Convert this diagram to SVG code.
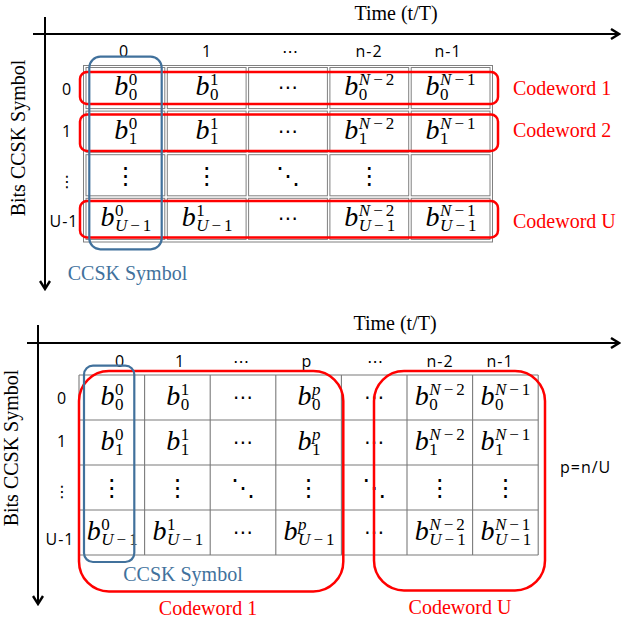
<svg xmlns="http://www.w3.org/2000/svg" width="621" height="622" viewBox="0 0 621 622">
<defs>
<marker id="arr" viewBox="0 0 12 12" refX="10" refY="6" markerWidth="12" markerHeight="12" markerUnits="userSpaceOnUse" orient="auto">
<path d="M2,1 L10,6 L2,11" fill="none" stroke="#000" stroke-width="2.4"/>
</marker>
<style>
.ax{stroke:#000;stroke-width:2;fill:none}
.ser{font-family:"Liberation Serif",serif;font-size:20px}
.lab{font-family:"Open Sans","Liberation Sans",sans-serif;font-size:16px;letter-spacing:1px;fill:#000}
.dots{font-family:"DejaVu Sans",sans-serif;fill:#000;text-anchor:middle}
.b{font-family:"Liberation Serif",serif;font-style:italic;font-size:28px;fill:#000}
.s{font-style:normal;font-size:17px;letter-spacing:3px}
.i{font-style:italic}
.cell{fill:none;stroke:#808080;stroke-width:1}
.red{fill:none;stroke:#ff0000;stroke-width:2.5}
.blue{fill:none;stroke:#41719c;stroke-width:2.2}
.rt{fill:#ff0000}
.bt{fill:#41719c}
</style>
</defs>
<rect width="621" height="622" fill="#fff"/>

<!-- ================= TOP DIAGRAM ================= -->
<g id="top-axes">
<line class="ax" x1="33" y1="34" x2="619" y2="34" marker-end="url(#arr)"/>
<line class="ax" x1="45" y1="17" x2="45" y2="289" marker-end="url(#arr)"/>
<text class="ser" x="396" y="20" text-anchor="middle">Time (t/T)</text>
<text class="ser" transform="translate(25,138) rotate(-90)" text-anchor="middle">Bits CCSK Symbol</text>
</g>

<g id="top-grid">
<rect class="cell" x="83.5" y="65.5" width="409" height="176.5"/>
<rect class="cell" x="86" y="67.5" width="78.8" height="41.1"/>
<rect class="cell" x="167.3" y="67.5" width="78.8" height="41.1"/>
<rect class="cell" x="248.6" y="67.5" width="78.8" height="41.1"/>
<rect class="cell" x="329.9" y="67.5" width="78.8" height="41.1"/>
<rect class="cell" x="411.2" y="67.5" width="78.8" height="41.1"/>
<rect class="cell" x="86" y="111.1" width="78.8" height="41.1"/>
<rect class="cell" x="167.3" y="111.1" width="78.8" height="41.1"/>
<rect class="cell" x="248.6" y="111.1" width="78.8" height="41.1"/>
<rect class="cell" x="329.9" y="111.1" width="78.8" height="41.1"/>
<rect class="cell" x="411.2" y="111.1" width="78.8" height="41.1"/>
<rect class="cell" x="86" y="154.7" width="78.8" height="41.1"/>
<rect class="cell" x="167.3" y="154.7" width="78.8" height="41.1"/>
<rect class="cell" x="248.6" y="154.7" width="78.8" height="41.1"/>
<rect class="cell" x="329.9" y="154.7" width="78.8" height="41.1"/>
<rect class="cell" x="411.2" y="154.7" width="78.8" height="41.1"/>
<rect class="cell" x="86" y="198.3" width="78.8" height="41.1"/>
<rect class="cell" x="167.3" y="198.3" width="78.8" height="41.1"/>
<rect class="cell" x="248.6" y="198.3" width="78.8" height="41.1"/>
<rect class="cell" x="329.9" y="198.3" width="78.8" height="41.1"/>
<rect class="cell" x="411.2" y="198.3" width="78.8" height="41.1"/>
</g>

<g id="top-headers">
<text class="lab" x="124" y="57" text-anchor="middle">0</text>
<text class="lab" x="207" y="57" text-anchor="middle">1</text>
<text class="dots" x="290" y="57" font-size="16">⋯</text>
<text class="lab" x="369" y="57" text-anchor="middle">n-2</text>
<text class="lab" x="448" y="57" text-anchor="middle">n-1</text>
<text class="lab" x="67" y="95" text-anchor="middle">0</text>
<text class="lab" x="67" y="137" text-anchor="middle">1</text>
<text class="dots" x="67" y="187" font-size="16">⋮</text>
<text class="lab" x="64" y="227" text-anchor="middle">U-1</text>
</g>

<g id="top-cells">
<!-- row 0 -->
<text class="b" x="114.2" y="95">b<tspan class="s" x="128.7" y="85">0</tspan><tspan class="s" x="128.7" y="100">0</tspan></text>
<text class="b" x="195.5" y="95">b<tspan class="s" x="210" y="85">1</tspan><tspan class="s" x="210" y="100">0</tspan></text>
<text class="dots" x="288" y="94" font-size="20">⋯</text>
<text class="b" x="344.3" y="95">b<tspan class="s" x="358.8" y="85"><tspan class="i">N</tspan>−2</tspan><tspan class="s" x="358.8" y="100">0</tspan></text>
<text class="b" x="425.6" y="95">b<tspan class="s" x="440.1" y="85"><tspan class="i">N</tspan>−1</tspan><tspan class="s" x="440.1" y="100">0</tspan></text>
<!-- row 1 -->
<text class="b" x="114.2" y="138.7">b<tspan class="s" x="128.7" y="128.7">0</tspan><tspan class="s" x="128.7" y="143.7">1</tspan></text>
<text class="b" x="195.5" y="138.7">b<tspan class="s" x="210" y="128.7">1</tspan><tspan class="s" x="210" y="143.7">1</tspan></text>
<text class="dots" x="288" y="137.7" font-size="20">⋯</text>
<text class="b" x="344.3" y="138.7">b<tspan class="s" x="358.8" y="128.7"><tspan class="i">N</tspan>−2</tspan><tspan class="s" x="358.8" y="143.7">1</tspan></text>
<text class="b" x="425.6" y="138.7">b<tspan class="s" x="440.1" y="128.7"><tspan class="i">N</tspan>−1</tspan><tspan class="s" x="440.1" y="143.7">1</tspan></text>
<!-- row 2 -->
<text class="dots" x="125.4" y="184" font-size="24">⋮</text>
<text class="dots" x="206.7" y="184" font-size="24">⋮</text>
<text class="dots" x="288" y="184" font-size="24">⋱</text>
<text class="dots" x="369.3" y="184" font-size="24">⋮</text>
<!-- row 3 -->
<text class="b" x="100.4" y="225.9">b<tspan class="s" x="114.9" y="215.9">0</tspan><tspan class="s" x="114.9" y="230.9"><tspan class="i">U</tspan>−1</tspan></text>
<text class="b" x="181.7" y="225.9">b<tspan class="s" x="196.2" y="215.9">1</tspan><tspan class="s" x="196.2" y="230.9"><tspan class="i">U</tspan>−1</tspan></text>
<text class="dots" x="288" y="224.9" font-size="20">⋯</text>
<text class="b" x="344.3" y="225.9">b<tspan class="s" x="358.8" y="215.9"><tspan class="i">N</tspan>−2</tspan><tspan class="s" x="358.8" y="230.9"><tspan class="i">U</tspan>−1</tspan></text>
<text class="b" x="425.6" y="225.9">b<tspan class="s" x="440.1" y="215.9"><tspan class="i">N</tspan>−1</tspan><tspan class="s" x="440.1" y="230.9"><tspan class="i">U</tspan>−1</tspan></text>
</g>

<g id="top-codeword-1">
<rect class="red" x="80" y="72" width="418" height="32" rx="7"/>
<text class="ser rt" x="513" y="95">Codeword 1</text>
</g>
<g id="top-codeword-2">
<rect class="red" x="80" y="114.5" width="418" height="36.5" rx="7"/>
<text class="ser rt" x="513" y="137">Codeword 2</text>
</g>
<g id="top-codeword-U">
<rect class="red" x="80" y="201" width="418" height="36.5" rx="7"/>
<text class="ser rt" x="513" y="228">Codeword U</text>
</g>
<g id="top-ccsk-symbol">
<rect class="blue" x="89.3" y="56.7" width="72.4" height="192.6" rx="11"/>
<text class="ser bt" x="127.5" y="280" text-anchor="middle">CCSK Symbol</text>
</g>

<!-- ================= BOTTOM DIAGRAM ================= -->
<g id="bottom-axes">
<line class="ax" x1="27" y1="343" x2="619" y2="343" marker-end="url(#arr)"/>
<line class="ax" x1="38" y1="325" x2="38" y2="604" marker-end="url(#arr)"/>
<text class="ser" x="395" y="330" text-anchor="middle">Time (t/T)</text>
<text class="ser" transform="translate(18,448) rotate(-90)" text-anchor="middle">Bits CCSK Symbol</text>
</g>

<g id="bottom-grid" stroke="#7a7a7a" stroke-width="1.1">
<line x1="79" y1="375" x2="538.2" y2="375"/>
<line x1="79" y1="420" x2="538.2" y2="420"/>
<line x1="79" y1="465" x2="538.2" y2="465"/>
<line x1="79" y1="510" x2="538.2" y2="510"/>
<line x1="79" y1="555" x2="538.2" y2="555"/>
<line x1="79" y1="375" x2="79" y2="555"/>
<line x1="144.6" y1="375" x2="144.6" y2="555"/>
<line x1="210.2" y1="375" x2="210.2" y2="555"/>
<line x1="275.8" y1="375" x2="275.8" y2="555"/>
<line x1="341.4" y1="375" x2="341.4" y2="555"/>
<line x1="407" y1="375" x2="407" y2="555"/>
<line x1="472.6" y1="375" x2="472.6" y2="555"/>
<line x1="538.2" y1="375" x2="538.2" y2="555"/>
</g>

<g id="bottom-headers">
<text class="lab" x="120" y="367" text-anchor="middle">0</text>
<text class="lab" x="180" y="367" text-anchor="middle">1</text>
<text class="dots" x="241" y="367" font-size="16">⋯</text>
<text class="lab" x="307" y="367" text-anchor="middle">p</text>
<text class="dots" x="375" y="367" font-size="16">⋯</text>
<text class="lab" x="440" y="367" text-anchor="middle">n-2</text>
<text class="lab" x="500" y="367" text-anchor="middle">n-1</text>
<text class="lab" x="62" y="404" text-anchor="middle">0</text>
<text class="lab" x="62" y="447" text-anchor="middle">1</text>
<text class="dots" x="62" y="497" font-size="16">⋮</text>
<text class="lab" x="60" y="545" text-anchor="middle">U-1</text>
<text class="lab" x="560" y="473">p=n/U</text>
</g>

<g id="bottom-cells">
<!-- row 0 -->
<text class="b" x="100.6" y="404.5">b<tspan class="s" x="115.1" y="394.5">0</tspan><tspan class="s" x="115.1" y="409.5">0</tspan></text>
<text class="b" x="166.2" y="404.5">b<tspan class="s" x="180.7" y="394.5">1</tspan><tspan class="s" x="180.7" y="409.5">0</tspan></text>
<text class="dots" x="243" y="403.5" font-size="20">⋯</text>
<text class="b" x="297.4" y="404.5">b<tspan class="s" x="311.9" y="394.5"><tspan class="i">p</tspan></tspan><tspan class="s" x="311.9" y="409.5">0</tspan></text>
<text class="dots" x="374.2" y="403.5" font-size="20">⋯</text>
<text class="b" x="414.8" y="404.5">b<tspan class="s" x="429.3" y="394.5"><tspan class="i">N</tspan>−2</tspan><tspan class="s" x="429.3" y="409.5">0</tspan></text>
<text class="b" x="480.4" y="404.5">b<tspan class="s" x="494.9" y="394.5"><tspan class="i">N</tspan>−1</tspan><tspan class="s" x="494.9" y="409.5">0</tspan></text>
<!-- row 1 -->
<text class="b" x="100.6" y="449.5">b<tspan class="s" x="115.1" y="439.5">0</tspan><tspan class="s" x="115.1" y="454.5">1</tspan></text>
<text class="b" x="166.2" y="449.5">b<tspan class="s" x="180.7" y="439.5">1</tspan><tspan class="s" x="180.7" y="454.5">1</tspan></text>
<text class="dots" x="243" y="448.5" font-size="20">⋯</text>
<text class="b" x="297.4" y="449.5">b<tspan class="s" x="311.9" y="439.5"><tspan class="i">p</tspan></tspan><tspan class="s" x="311.9" y="454.5">1</tspan></text>
<text class="dots" x="374.2" y="448.5" font-size="20">⋯</text>
<text class="b" x="414.8" y="449.5">b<tspan class="s" x="429.3" y="439.5"><tspan class="i">N</tspan>−2</tspan><tspan class="s" x="429.3" y="454.5">1</tspan></text>
<text class="b" x="480.4" y="449.5">b<tspan class="s" x="494.9" y="439.5"><tspan class="i">N</tspan>−1</tspan><tspan class="s" x="494.9" y="454.5">1</tspan></text>
<!-- row 2 -->
<text class="dots" x="111.8" y="496" font-size="24">⋮</text>
<text class="dots" x="177.4" y="496" font-size="24">⋮</text>
<text class="dots" x="243" y="496" font-size="24">⋱</text>
<text class="dots" x="308.6" y="496" font-size="24">⋮</text>
<text class="dots" x="374.2" y="496" font-size="24">⋱</text>
<text class="dots" x="439.8" y="496" font-size="24">⋮</text>
<text class="dots" x="505.4" y="496" font-size="24">⋮</text>
<!-- row 3 -->
<text class="b" x="86.8" y="539.5">b<tspan class="s" x="101.3" y="529.5">0</tspan><tspan class="s" x="101.3" y="544.5"><tspan class="i">U</tspan>−1</tspan></text>
<text class="b" x="152.4" y="539.5">b<tspan class="s" x="166.9" y="529.5">1</tspan><tspan class="s" x="166.9" y="544.5"><tspan class="i">U</tspan>−1</tspan></text>
<text class="dots" x="243" y="538.5" font-size="20">⋯</text>
<text class="b" x="283.6" y="539.5">b<tspan class="s" x="298.1" y="529.5"><tspan class="i">p</tspan></tspan><tspan class="s" x="298.1" y="544.5"><tspan class="i">U</tspan>−1</tspan></text>
<text class="dots" x="374.2" y="538.5" font-size="20">⋯</text>
<text class="b" x="414.8" y="539.5">b<tspan class="s" x="429.3" y="529.5"><tspan class="i">N</tspan>−2</tspan><tspan class="s" x="429.3" y="544.5"><tspan class="i">U</tspan>−1</tspan></text>
<text class="b" x="480.4" y="539.5">b<tspan class="s" x="494.9" y="529.5"><tspan class="i">N</tspan>−1</tspan><tspan class="s" x="494.9" y="544.5"><tspan class="i">U</tspan>−1</tspan></text>
</g>

<g id="bottom-codeword-1">
<rect class="red" x="79" y="371" width="264.3" height="220.5" rx="30"/>
<text class="ser rt" x="208" y="615" text-anchor="middle">Codeword 1</text>
</g>
<g id="bottom-codeword-U">
<rect class="red" x="374" y="371" width="171" height="219.5" rx="30"/>
<text class="ser rt" x="460" y="614" text-anchor="middle">Codeword U</text>
</g>
<g id="bottom-ccsk-symbol">
<rect class="blue" x="84" y="365.7" width="50.3" height="196.3" rx="9"/>
<text class="ser bt" x="183" y="581" text-anchor="middle">CCSK Symbol</text>
</g>
</svg>
